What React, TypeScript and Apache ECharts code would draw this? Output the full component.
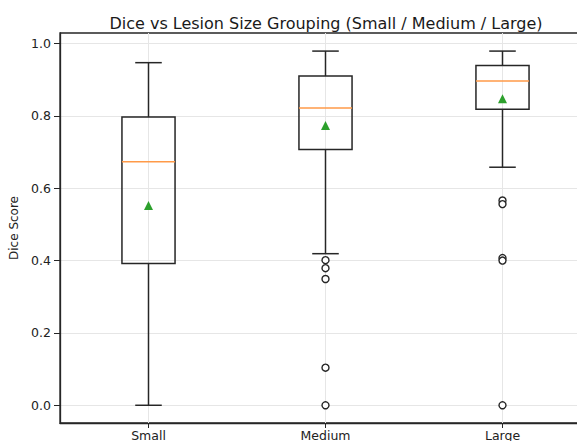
import React, { useEffect, useRef } from "react";
import * as echarts from "echarts";

const categories = ["Small", "Medium", "Large"];
const whiskerLow = [0.0, 0.419, 0.658];
const q1 = [0.392, 0.707, 0.818];
const median = [0.673, 0.822, 0.896];
const q3 = [0.797, 0.91, 0.939];
const whiskerHigh = [0.947, 0.979, 0.979];
const means = [0.552, 0.773, 0.847];
const outliersSmall: number[] = [];
const outliersMedium = [0.401, 0.379, 0.349, 0.104, 0.0];
const outliersLarge = [0.566, 0.556, 0.407, 0.4, 0.0];
const yTicks = [0.0, 0.2, 0.4, 0.6, 0.8, 1.0];

const FONT = "DejaVu Sans";

export default function App() {
  const ref = useRef<HTMLDivElement>(null);
  useEffect(() => {
    if (!ref.current) return;
    const chart = echarts.init(ref.current, null, { renderer: "svg" });

    const boxData = categories.map((_, i) => [
      i,
      whiskerLow[i],
      q1[i],
      median[i],
      q3[i],
      whiskerHigh[i],
    ]);
    const outlierGroups = [outliersSmall, outliersMedium, outliersLarge];
    const outlierData: number[][] = [];
    outlierGroups.forEach((arr, i) => arr.forEach((v) => outlierData.push([i, v])));
    const meanData = means.map((v, i) => [i, v]);

    const lineCol = "#262626";
    const lw = 1.5;

    const renderItem = (params: any, api: any) => {
      const idx = api.value(0);
      const lo = api.coord([idx, api.value(1)]);
      const b1 = api.coord([idx, api.value(2)]);
      const md = api.coord([idx, api.value(3)]);
      const b3 = api.coord([idx, api.value(4)]);
      const hi = api.coord([idx, api.value(5)]);
      const band = api.size([1, 0])[0];
      const halfBox = band * 0.15;
      const halfCap = band * 0.075;
      const cx = lo[0];
      const cs = params.coordSys;
      const ls = { stroke: lineCol, lineWidth: lw, fill: "none" };
      return {
        type: "group",
        children: [
          {
            type: "line",
            shape: { x1: cx, y1: cs.y, x2: cx, y2: cs.y + cs.height },
            style: { stroke: "#e6e6e6", lineWidth: 1 },
            silent: true,
          },
          { type: "line", shape: { x1: cx, y1: lo[1], x2: cx, y2: b1[1] }, style: ls },
          { type: "line", shape: { x1: cx, y1: b3[1], x2: cx, y2: hi[1] }, style: ls },
          { type: "line", shape: { x1: cx - halfCap, y1: lo[1], x2: cx + halfCap, y2: lo[1] }, style: ls },
          { type: "line", shape: { x1: cx - halfCap, y1: hi[1], x2: cx + halfCap, y2: hi[1] }, style: ls },
          {
            type: "rect",
            shape: { x: cx - halfBox, y: b3[1], width: halfBox * 2, height: b1[1] - b3[1] },
            style: ls,
          },
          {
            type: "line",
            shape: { x1: cx - halfBox, y1: md[1], x2: cx + halfBox, y2: md[1] },
            style: { stroke: "#ff9a48", lineWidth: lw },
          },
        ],
      };
    };

    chart.setOption({
      animation: false,
      backgroundColor: "#ffffff",
      title: {
        text: "Dice vs Lesion Size Grouping (Small / Medium / Large)",
        left: 321,
        top: 10,
        textAlign: "center",
        textStyle: { fontFamily: FONT, fontSize: 16, fontWeight: "normal", color: "#1a1a1a" },
      },
      grid: {
        left: 60,
        top: 33,
        width: 531,
        height: 390,
        show: true,
        borderColor: lineCol,
        borderWidth: 1.3,
        backgroundColor: "transparent",
        containLabel: false,
        outerBoundsMode: "none",
      },
      xAxis: {
        type: "category",
        data: categories,
        boundaryGap: true,
        axisLine: { show: true, onZero: false, lineStyle: { color: lineCol, width: 1.3 } },
        axisTick: { show: true, alignWithLabel: true, length: 5, lineStyle: { color: lineCol } },
        axisLabel: { fontFamily: FONT, fontSize: 12.5, color: "#222", margin: 6 },
        splitLine: { show: false },
      },
      yAxis: {
        type: "value",
        min: -0.049,
        max: 1.029,
        name: "Dice Score",
        nameLocation: "middle",
        nameGap: 38,
        nameTextStyle: { fontFamily: FONT, fontSize: 12, color: "#222" },
        axisLine: { show: true, lineStyle: { color: lineCol, width: 1.3 } },
        axisTick: {
          show: true,
          length: 6,
          customValues: yTicks,
          lineStyle: { color: lineCol },
        },
        axisLabel: {
          fontFamily: FONT,
          fontSize: 12.5,
          color: "#222",
          margin: 9,
          customValues: yTicks,
          formatter: (v: number) =>
            yTicks.some((t) => Math.abs(t - v) < 1e-6) ? v.toFixed(1) : "",
        },
        splitLine: { show: true, lineStyle: { color: "#e6e6e6", width: 1 } },
      },
      series: [
        {
          type: "custom",
          renderItem,
          data: boxData,
          encode: { x: 0, y: [1, 2, 3, 4, 5] },
          z: 2,
        },
        {
          type: "scatter",
          data: outlierData,
          symbol: "circle",
          symbolSize: 7,
          itemStyle: { color: "#ffffff", borderColor: lineCol, borderWidth: 1.4, opacity: 1 },
          z: 3,
        },
        {
          type: "scatter",
          data: meanData,
          symbol: "triangle",
          symbolSize: 9,
          itemStyle: { color: "#2ca02c", opacity: 1 },
          z: 4,
        },
      ],
    });
    return () => chart.dispose();
  }, []);
  return <div ref={ref} style={{ width: 577, height: 441, position: "absolute", left: 0, top: 0 }} />;
}
